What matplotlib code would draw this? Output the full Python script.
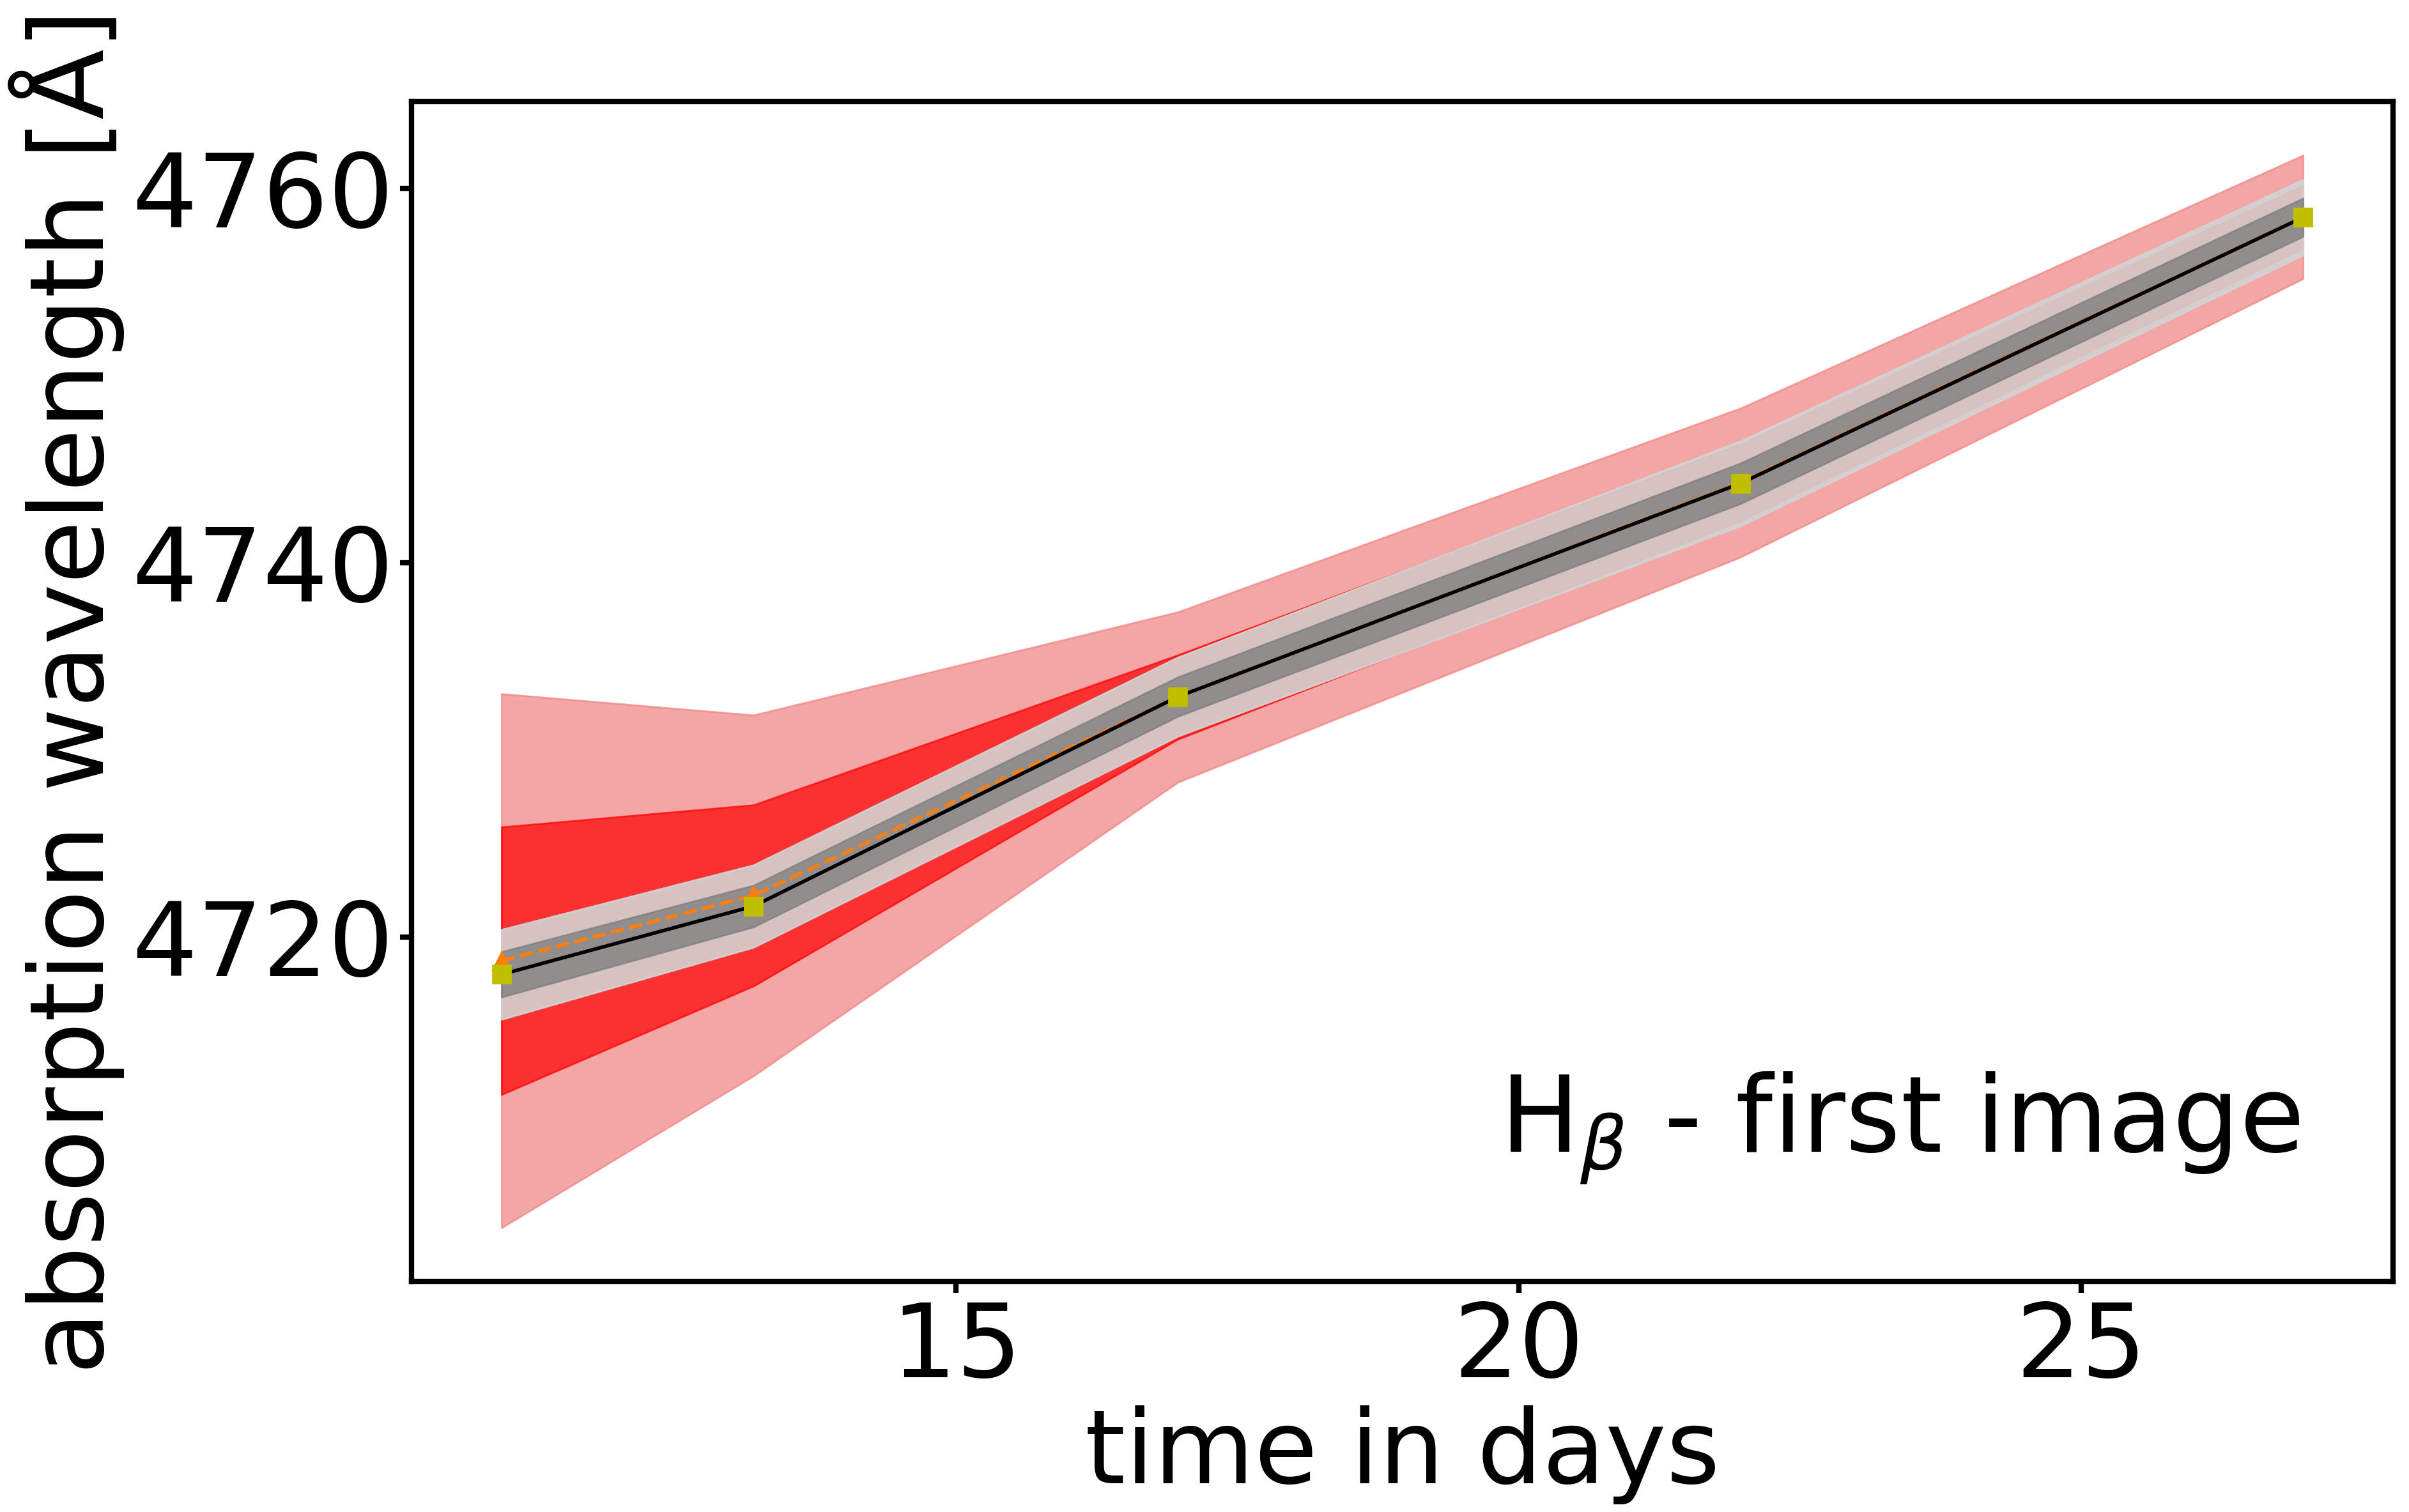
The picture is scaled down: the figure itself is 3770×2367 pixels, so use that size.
import numpy as np
import matplotlib
matplotlib.use('Agg')
import matplotlib.pyplot as plt

# epochs (days) and absorption minimum of H-beta
days = [10.96, 13.20, 16.97, 21.97, 26.97]

# model / fit (orange) with 1 and 2 sigma half-widths
fit_wl = [4718.73, 4722.22, 4732.82, 4744.28, 4758.48]
fit_1sig = [7.15, 4.84, 2.25, 2.05, 1.67]
fit_2sig = [14.27, 9.64, 4.55, 3.98, 3.30]

# measured (black) with 1 and 2 sigma half-widths
obs_wl = [4718.00, 4721.65, 4732.84, 4744.24, 4758.46]
obs_1sig = [1.21, 1.11, 1.05, 1.08, 1.02]
obs_2sig = [2.40, 2.20, 2.11, 2.27, 2.02]

plt.rcParams['font.size'] = 58

t = np.array(days)
fm, f1, f2 = np.array(fit_wl), np.array(fit_1sig), np.array(fit_2sig)
om, o1, o2 = np.array(obs_wl), np.array(obs_1sig), np.array(obs_2sig)

fig, ax = plt.subplots(figsize=(18.85, 11.835), dpi=200)
fig.subplots_adjust(left=0.1708, right=0.9934, top=0.9328, bottom=0.1525)

ax.fill_between(t, fm - f2, fm + f2, color='lightcoral', alpha=0.7)
ax.fill_between(t, fm - f1, fm + f1, color='red', alpha=0.7)
ax.fill_between(t, om - o2, om + o2, color='lightgray', alpha=0.9)
ax.fill_between(t, om - o1, om + o1, color='gray', alpha=0.8)

ax.plot(t, fm, '--', color='C1', lw=2, marker='^', ms=10)
ax.plot(t, om, '-', color='k', lw=2)
ax.plot(t, om, 's', color='y', ms=10)

ax.text(0.953, 0.11, r'H$_\beta$ - first image', transform=ax.transAxes,
        ha='right', va='baseline', fontsize=59.5)

ax.set_xlabel('time in days')
ax.set_ylabel('absorption wavelength [Å]')
ax.set_yticks([4720, 4740, 4760])
ax.set_xticks([15, 20, 25])
ax.tick_params(length=6.5, width=3)
for s in ax.spines.values():
    s.set_linewidth(3)

fig.savefig('out.png', dpi=200)
